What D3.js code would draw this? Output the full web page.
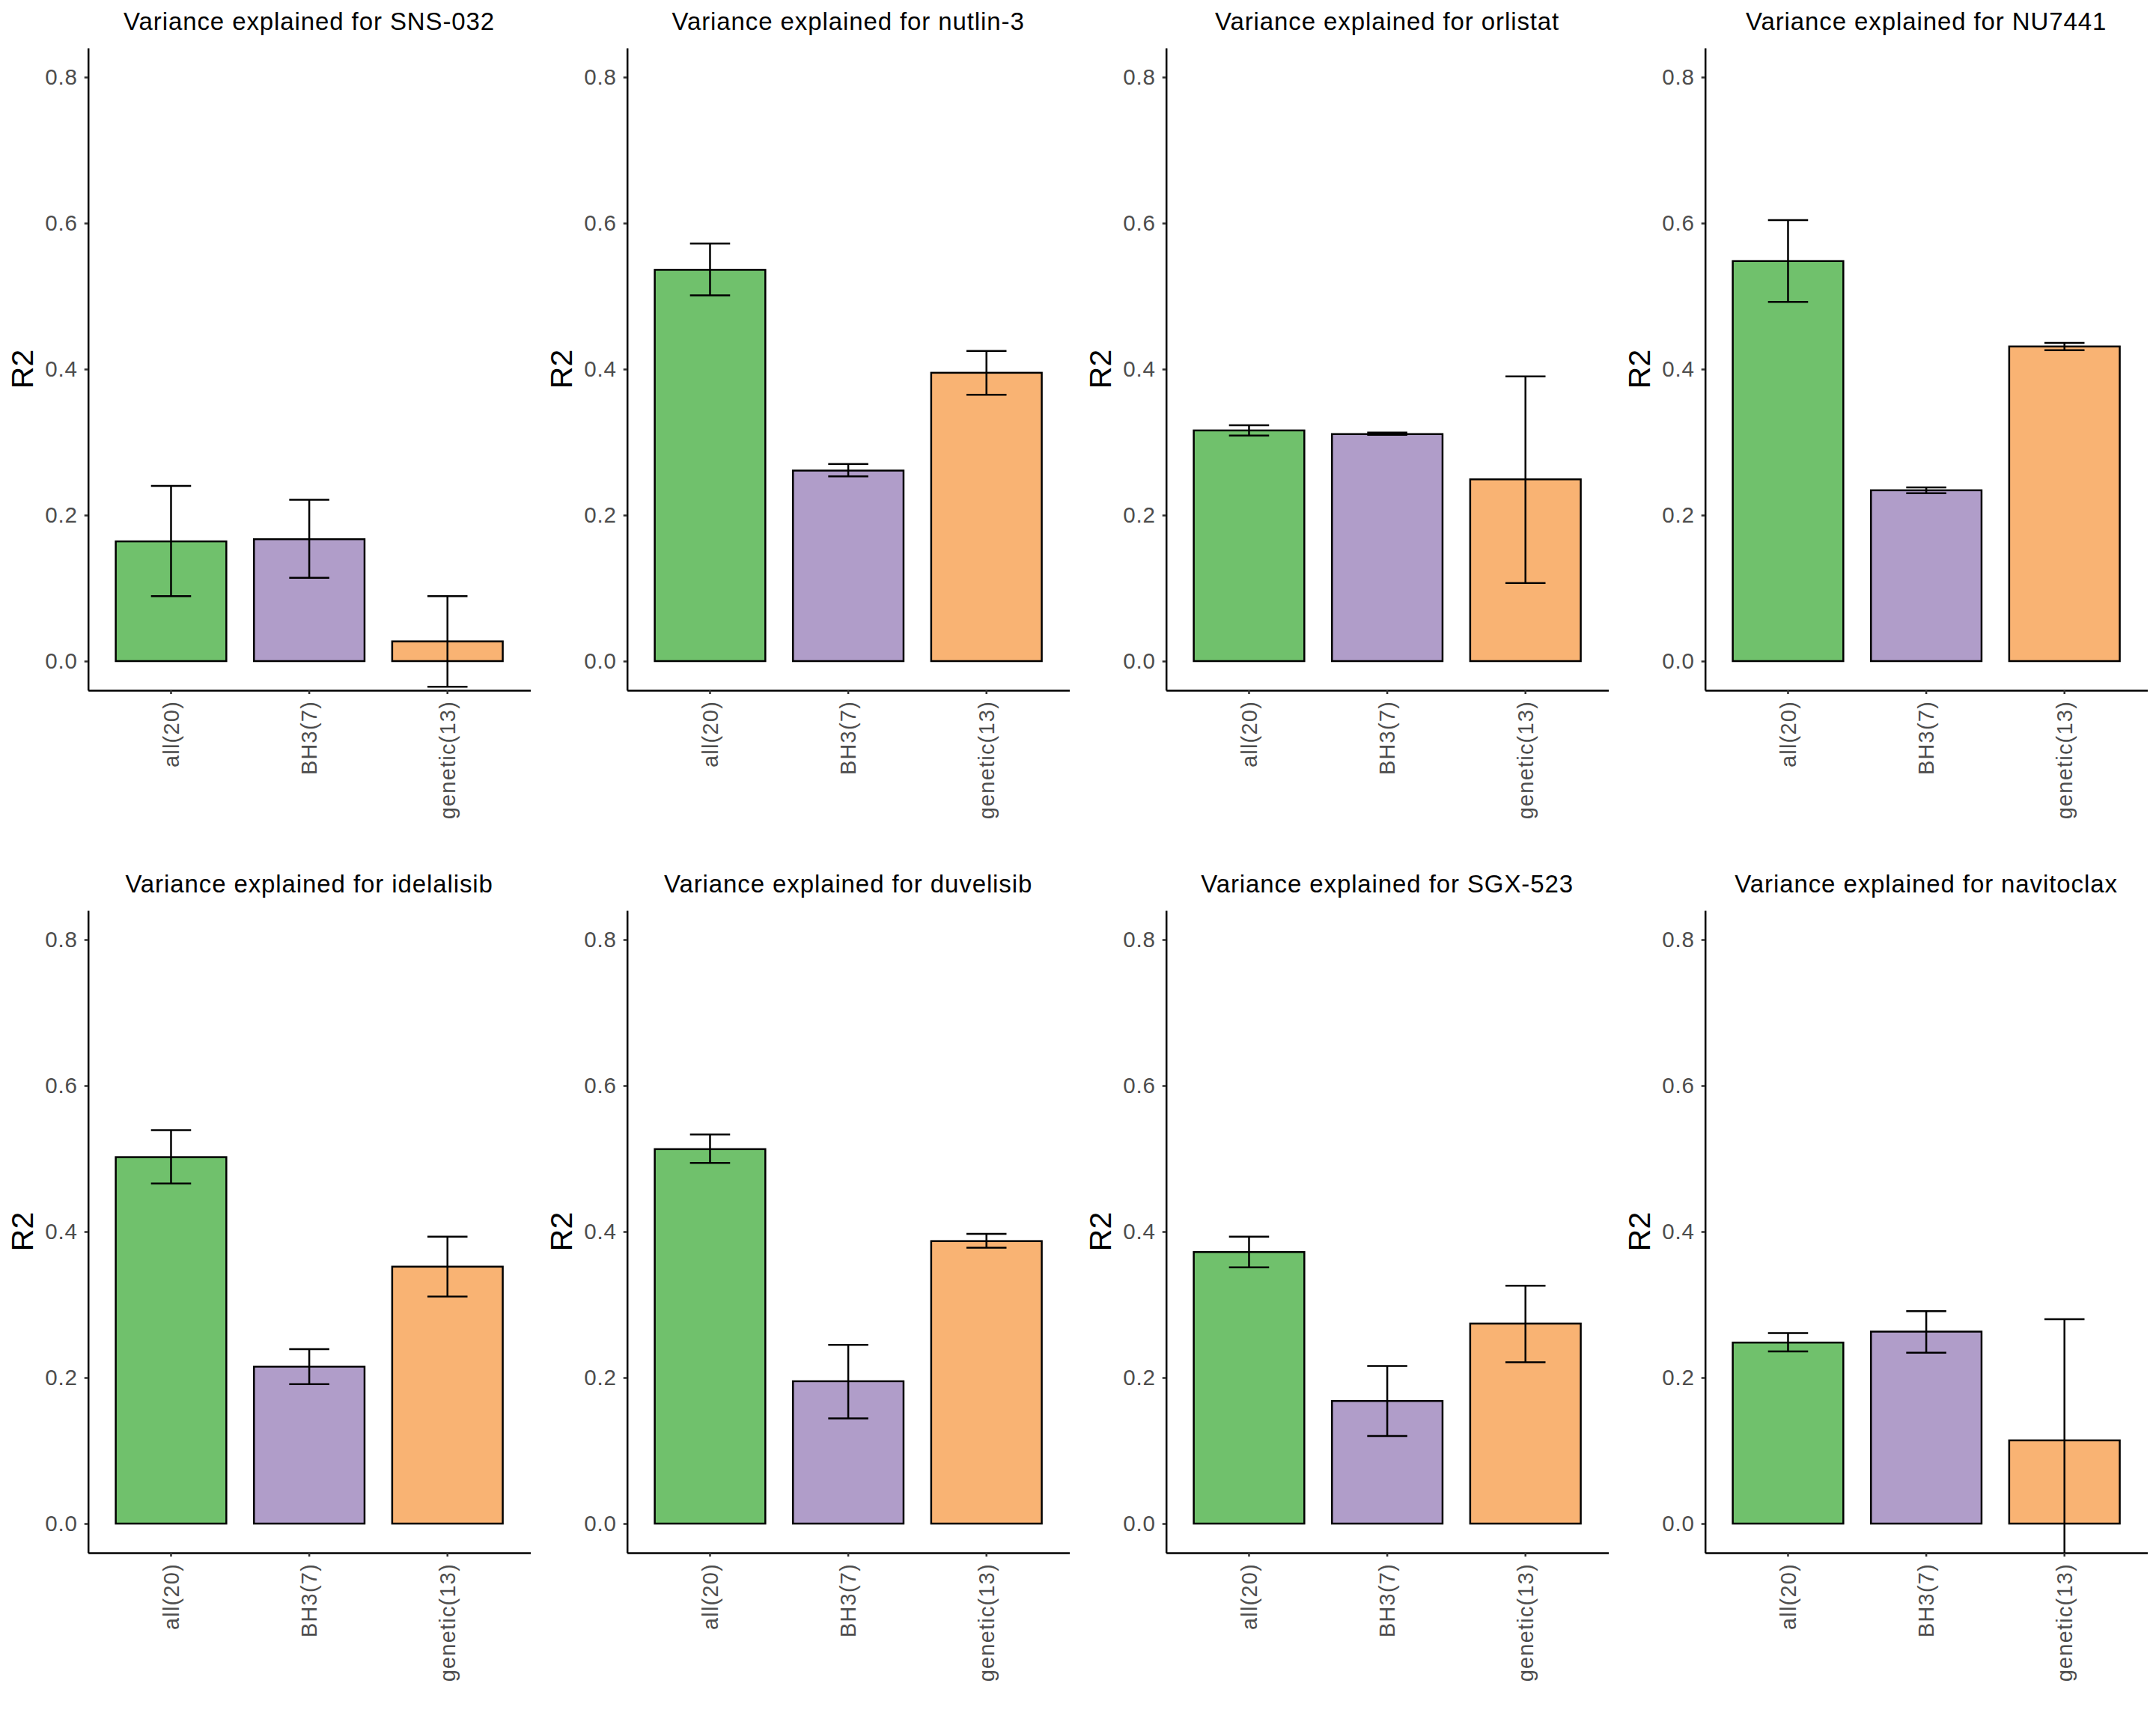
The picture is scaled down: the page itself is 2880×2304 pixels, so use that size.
<!DOCTYPE html>
<html>
<head>
<meta charset="utf-8">
<script src="https://cdn.jsdelivr.net/npm/d3@7"></script>
<style>
  body { margin: 0; background: #fff; }
  svg { display: block; font-family: "Liberation Sans", Arial, sans-serif; }
</style>
</head>
<body>
<svg id="chart" width="2880" height="2304"></svg>
<script>
const drugs = ['SNS-032', 'nutlin-3', 'orlistat', 'NU7441',
  'idelalisib', 'duvelisib', 'SGX-523', 'navitoclax'];
const groups = ['all(20)', 'BH3(7)', 'genetic(13)'];
const groupColors = ['#70c16c', '#b09dc9', '#f9b373'];

// mean R2 per drug, one entry per group
const r2Mean = [
  [0.164, 0.167, 0.027],
  [0.536, 0.261, 0.395],
  [0.316, 0.311, 0.249],
  [0.548, 0.234, 0.431],
  [0.502, 0.215, 0.352],
  [0.513, 0.195, 0.387],
  [0.372, 0.168, 0.274],
  [0.248, 0.263, 0.114],
];
const r2Lower = [
  [0.089, 0.114, -0.035],
  [0.501, 0.253, 0.365],
  [0.309, 0.310, 0.107],
  [0.492, 0.230, 0.426],
  [0.466, 0.191, 0.311],
  [0.494, 0.144, 0.378],
  [0.351, 0.120, 0.221],
  [0.236, 0.234, -0.060],
];
const r2Upper = [
  [0.240, 0.221, 0.089],
  [0.572, 0.270, 0.425],
  [0.323, 0.313, 0.390],
  [0.604, 0.238, 0.436],
  [0.539, 0.239, 0.393],
  [0.533, 0.245, 0.397],
  [0.393, 0.216, 0.326],
  [0.261, 0.291, 0.280],
];
const yTicks = [0, 0.2, 0.4, 0.6, 0.8];

const cellW = 720;
const cellH = 1152;
const margin = { top: 64, right: 11.5, bottom: 230, left: 117.7 };
const width = cellW - margin.left - margin.right;
const height = cellH - margin.top - margin.bottom;
const lineW = 2.5;

const svg = d3.select('#chart');

const x = d3.scaleBand()
  .domain(groups)
  .range([0, width])
  .paddingInner(0.2)
  .paddingOuter(0.2);

const y = d3.scaleLinear()
  .domain([-0.04, 0.84])
  .range([height, 0]);

const capWidth = x.step() * 0.29;

svg.append('defs')
  .append('clipPath')
  .attr('id', 'panel-clip')
  .append('rect')
  .attr('width', width)
  .attr('height', height);

drugs.forEach((drug, i) => {
  const col = i % 4;
  const row = Math.floor(i / 4);
  const g = svg.append('g')
    .attr('transform', `translate(${col * cellW + margin.left},${row * cellH + margin.top})`);

  const rows = groups.map((grp, j) => ({
    grp,
    mean: r2Mean[i][j],
    lo: r2Lower[i][j],
    hi: r2Upper[i][j],
    color: groupColors[j],
  }));

  const panel = g.append('g').attr('clip-path', 'url(#panel-clip)');

  // bars
  panel.selectAll('rect.bar')
    .data(rows)
    .enter()
    .append('rect')
    .attr('class', 'bar')
    .attr('x', (d) => x(d.grp))
    .attr('y', (d) => y(d.mean))
    .attr('width', x.bandwidth())
    .attr('height', (d) => y(0) - y(d.mean))
    .attr('fill', (d) => d.color)
    .attr('stroke', '#000')
    .attr('stroke-width', lineW);

  // error bars
  panel.selectAll('path.err')
    .data(rows)
    .enter()
    .append('path')
    .attr('class', 'err')
    .attr('d', (d) => {
      const cx = x(d.grp) + x.bandwidth() / 2;
      const l = cx - capWidth / 2;
      const r = cx + capWidth / 2;
      return `M${l},${y(d.hi)}H${r}M${cx},${y(d.hi)}V${y(d.lo)}M${l},${y(d.lo)}H${r}`;
    })
    .attr('fill', 'none')
    .attr('stroke', '#000')
    .attr('stroke-width', lineW);

  // y axis
  const yAxis = g.append('g')
    .call(d3.axisLeft(y).tickValues(yTicks).tickFormat(d3.format('.1f'))
      .tickSize(5).tickSizeOuter(0).tickPadding(9));
  yAxis.select('.domain').attr('stroke', '#000').attr('stroke-width', lineW);
  yAxis.selectAll('.tick line').attr('stroke', '#333').attr('stroke-width', lineW);
  yAxis.selectAll('.tick text')
    .attr('fill', '#4d4d4d')
    .style('font-size', '29.5px')
    .style('letter-spacing', '0.8px')
    .style('font-family', '"Liberation Sans", Arial, sans-serif');

  // x axis
  const xAxis = g.append('g')
    .attr('transform', `translate(0,${height})`)
    .call(d3.axisBottom(x).tickSize(5).tickSizeOuter(0));
  xAxis.select('.domain').attr('stroke', '#000').attr('stroke-width', lineW);
  xAxis.selectAll('.tick line').attr('stroke', '#333').attr('stroke-width', lineW);
  xAxis.selectAll('.tick text')
    .attr('fill', '#4d4d4d')
    .attr('transform', 'rotate(-90)')
    .attr('x', -14)
    .attr('y', 0)
    .attr('dy', '0.35em')
    .style('text-anchor', 'end')
    .style('font-size', '29px')
    .style('letter-spacing', '1.2px')
    .style('font-family', '"Liberation Sans", Arial, sans-serif');

  // title
  g.append('text')
    .attr('x', width / 2)
    .attr('y', 39.6 - margin.top)
    .attr('text-anchor', 'middle')
    .attr('fill', '#000')
    .style('font-size', '33px')
    .style('letter-spacing', '0.9px')
    .text(`Variance explained for ${drug}`);

  // y axis title
  g.append('text')
    .attr('transform', `translate(${29.5 - margin.left},${height / 2}) rotate(-90)`)
    .attr('text-anchor', 'middle')
    .attr('dy', '0.35em')
    .attr('fill', '#000')
    .style('font-size', '41px')
    .text('R2');
});
</script>
</body>
</html>
